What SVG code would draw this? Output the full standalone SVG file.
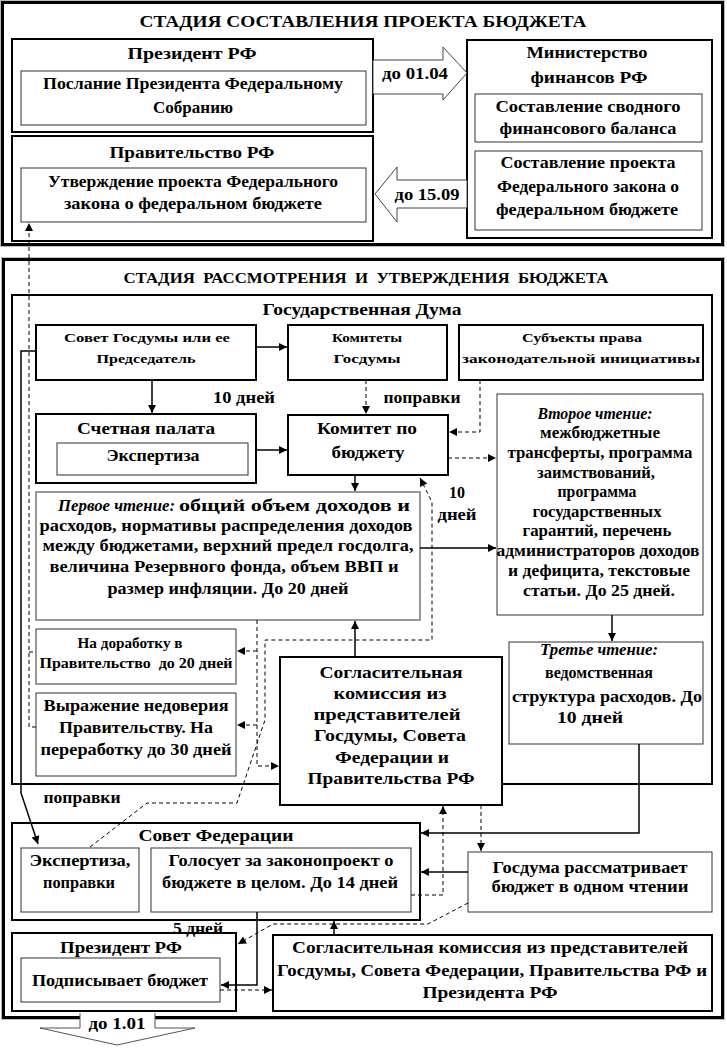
<svg xmlns="http://www.w3.org/2000/svg" width="727" height="1049" viewBox="0 0 727 1049">
<style>
.t{font-family:"Liberation Serif","Times New Roman",serif;font-weight:bold;text-anchor:middle;fill:#000}
.ts{font-family:"Liberation Serif","Times New Roman",serif;font-weight:bold;text-anchor:start;fill:#000}
.i{font-style:italic}
.f17{font-size:17px}.f16{font-size:16px}.f15{font-size:15.5px}.f14{font-size:14px}.f13{font-size:13px}
.st{fill:#fff;stroke:#000;stroke-width:3}
.sto{fill:none;stroke:#777;stroke-width:1;stroke-dasharray:1 1}
.b{fill:#fff;stroke:#000;stroke-width:2}
.n{fill:#fff;stroke:#333;stroke-width:1}
.c{fill:none;stroke:#000;stroke-width:1.5}
.d{fill:none;stroke:#000;stroke-width:1;stroke-dasharray:4 3}
.ba{fill:#fff;stroke:#444;stroke-width:1}
</style>
<defs>
<marker id="a" viewBox="0 0 10 10" refX="10" refY="5" markerWidth="9" markerHeight="8" markerUnits="userSpaceOnUse" orient="auto"><path d="M0,0 L10,5 L0,10 z" fill="#000"/></marker>
</defs>
<rect width="727" height="1049" fill="#fff"/>

<g id="stage1">
<rect class="st" x="2.5" y="2.5" width="720" height="242"/>
<rect class="sto" x="0.5" y="0.5" width="724" height="246"/>
<text class="t f17" x="363" y="27" textLength="447" lengthAdjust="spacingAndGlyphs">СТАДИЯ СОСТАВЛЕНИЯ ПРОЕКТА БЮДЖЕТА</text>
</g>

<g id="president1">
<rect class="b" x="12" y="39" width="361" height="93"/>
<text class="t f17" x="192" y="59" textLength="129" lengthAdjust="spacingAndGlyphs">Президент РФ</text>
<rect class="n" x="21" y="71" width="345" height="54"/>
<text class="t f17" x="193" y="89" textLength="300" lengthAdjust="spacingAndGlyphs">Послание Президента Федеральному</text>
<text class="t f17" x="193" y="113" textLength="80" lengthAdjust="spacingAndGlyphs">Собранию</text>
</g>

<g id="government">
<rect class="b" x="12" y="136" width="361" height="105"/>
<text class="t f17" x="192" y="158" textLength="165" lengthAdjust="spacingAndGlyphs">Правительство РФ</text>
<rect class="n" x="21" y="168" width="345" height="54"/>
<text class="t f17" x="193" y="187" textLength="290" lengthAdjust="spacingAndGlyphs">Утверждение проекта Федерального</text>
<text class="t f17" x="193" y="209" textLength="258" lengthAdjust="spacingAndGlyphs">закона о федеральном бюджете</text>
</g>

<g id="minfin">
<rect class="b" x="467" y="40" width="245" height="198"/>
<text class="t f17" x="587" y="58" textLength="121" lengthAdjust="spacingAndGlyphs">Министерство</text>
<text class="t f17" x="589" y="83" textLength="117" lengthAdjust="spacingAndGlyphs">финансов РФ</text>
<rect class="n" x="475" y="94" width="227" height="48"/>
<text class="t f17" x="588" y="112" textLength="185" lengthAdjust="spacingAndGlyphs">Составление сводного</text>
<text class="t f17" x="588" y="134" textLength="177" lengthAdjust="spacingAndGlyphs">финансового баланса</text>
<rect class="n" x="475" y="151" width="227" height="79"/>
<text class="t f17" x="588" y="168" textLength="175" lengthAdjust="spacingAndGlyphs">Составление проекта</text>
<text class="t f17" x="588" y="192" textLength="182" lengthAdjust="spacingAndGlyphs">Федерального закона о</text>
<text class="t f17" x="587" y="215" textLength="182" lengthAdjust="spacingAndGlyphs">федеральном бюджете</text>
</g>

<g id="stage2">
<rect class="st" x="3.5" y="259.5" width="719" height="758"/>
<rect class="sto" x="1.5" y="257.5" width="723" height="762"/>
<text class="t f15" x="366" y="283" textLength="485" lengthAdjust="spacingAndGlyphs" xml:space="preserve">СТАДИЯ  РАССМОТРЕНИЯ  И  УТВЕРЖДЕНИЯ  БЮДЖЕТА</text>
</g>

<g id="duma">
<rect class="b" x="12" y="295" width="700" height="489"/>
<text class="t f17" x="362" y="315" textLength="199" lengthAdjust="spacingAndGlyphs">Государственная Дума</text>
</g>

<g id="sovet-gd">
<rect class="b" x="36" y="325" width="220" height="55"/>
<text class="t f13" x="147" y="342" textLength="166" lengthAdjust="spacingAndGlyphs">Совет Госдумы или ее</text>
<text class="t f13" x="146" y="363" textLength="99" lengthAdjust="spacingAndGlyphs">Председатель</text>
</g>

<g id="komitety">
<rect class="b" x="288" y="325" width="159" height="55"/>
<text class="t f13" x="367" y="342" textLength="70" lengthAdjust="spacingAndGlyphs">Комитеты</text>
<text class="t f13" x="367" y="363" textLength="67" lengthAdjust="spacingAndGlyphs">Госдумы</text>
</g>

<g id="subjects">
<rect class="b" x="459" y="325" width="244" height="55"/>
<text class="t f13" x="582" y="342" textLength="120" lengthAdjust="spacingAndGlyphs">Субъекты права</text>
<text class="t f13" x="581" y="363" textLength="238" lengthAdjust="spacingAndGlyphs">законодательной инициативы</text>
</g>

<g id="schetnaya">
<rect class="b" x="36" y="414" width="220" height="69"/>
<text class="t f17" x="146" y="434" textLength="138" lengthAdjust="spacingAndGlyphs">Счетная палата</text>
<rect class="n" x="57" y="443" width="191" height="32"/>
<text class="t f17" x="153" y="461" textLength="93" lengthAdjust="spacingAndGlyphs">Экспертиза</text>
</g>

<g id="komitet-budget">
<rect class="b" x="288" y="415" width="160" height="60"/>
<text class="t f17" x="367" y="434" textLength="100" lengthAdjust="spacingAndGlyphs">Комитет по</text>
<text class="t f17" x="368" y="458" textLength="73" lengthAdjust="spacingAndGlyphs">бюджету</text>
</g>

<g id="second-reading">
<rect class="n" x="497" y="394" width="206" height="221"/>
<text class="t f16 i" x="595" y="419" textLength="115" lengthAdjust="spacingAndGlyphs">Второе чтение:</text>
<text class="t f16" x="600" y="438" textLength="120" lengthAdjust="spacingAndGlyphs">межбюджетные</text>
<text class="t f16" x="600" y="458" textLength="185" lengthAdjust="spacingAndGlyphs">трансферты, программа</text>
<text class="t f16" x="596" y="478" textLength="118" lengthAdjust="spacingAndGlyphs">заимствований,</text>
<text class="t f16" x="597" y="497" textLength="79" lengthAdjust="spacingAndGlyphs">программа</text>
<text class="t f16" x="597" y="517" textLength="129" lengthAdjust="spacingAndGlyphs">государственных</text>
<text class="t f16" x="597" y="536" textLength="149" lengthAdjust="spacingAndGlyphs">гарантий, перечень</text>
<text class="t f16" x="598" y="556" textLength="203" lengthAdjust="spacingAndGlyphs">администраторов доходов</text>
<text class="t f16" x="599" y="576" textLength="182" lengthAdjust="spacingAndGlyphs">и дефицита, текстовые</text>
<text class="t f16" x="599" y="596" textLength="152" lengthAdjust="spacingAndGlyphs">статьи. До 25 дней.</text>
</g>

<g id="first-reading">
<rect class="n" x="36" y="492" width="384" height="128"/>
<text class="ts f16 i" x="58" y="511" textLength="117" lengthAdjust="spacingAndGlyphs">Первое чтение:</text>
<text class="ts f16" x="179" y="511" textLength="231" lengthAdjust="spacingAndGlyphs">общий объем доходов и</text>
<text class="t f16" x="226" y="531" textLength="373" lengthAdjust="spacingAndGlyphs">расходов, нормативы распределения доходов</text>
<text class="t f16" x="228" y="551" textLength="371" lengthAdjust="spacingAndGlyphs">между бюджетами, верхний предел госдолга,</text>
<text class="t f16" x="224" y="572" textLength="349" lengthAdjust="spacingAndGlyphs">величина Резервного фонда, объем ВВП и</text>
<text class="t f16" x="228" y="594" textLength="241" lengthAdjust="spacingAndGlyphs">размер инфляции. До 20 дней</text>
</g>

<g id="dorabotka">
<rect class="n" x="36" y="629" width="200" height="55"/>
<text class="t f14" x="130" y="648" textLength="105" lengthAdjust="spacingAndGlyphs">На доработку в</text>
<text class="t f14" x="136" y="668" textLength="193" lengthAdjust="spacingAndGlyphs" xml:space="preserve">Правительство  до 20 дней</text>
</g>

<g id="nedoverie">
<rect class="n" x="36" y="693" width="200" height="83"/>
<text class="t f16" x="136" y="711" textLength="185" lengthAdjust="spacingAndGlyphs">Выражение недоверия</text>
<text class="t f16" x="136" y="733" textLength="154" lengthAdjust="spacingAndGlyphs">Правительству. На</text>
<text class="t f16" x="136" y="755" textLength="191" lengthAdjust="spacingAndGlyphs">переработку до 30 дней</text>
</g>

<g id="soglas-1">
<rect class="b" x="280" y="657" width="222" height="148"/>
<text class="t f17" x="391" y="678" textLength="143" lengthAdjust="spacingAndGlyphs">Согласительная</text>
<text class="t f17" x="390" y="699" textLength="113" lengthAdjust="spacingAndGlyphs">комиссия из</text>
<text class="t f17" x="387" y="720" textLength="147" lengthAdjust="spacingAndGlyphs">представителей</text>
<text class="t f17" x="390" y="741" textLength="152" lengthAdjust="spacingAndGlyphs">Госдумы, Совета</text>
<text class="t f17" x="392" y="763" textLength="114" lengthAdjust="spacingAndGlyphs">Федерации и</text>
<text class="t f17" x="391" y="784" textLength="167" lengthAdjust="spacingAndGlyphs">Правительства РФ</text>
</g>

<g id="third-reading">
<rect class="n" x="509" y="642" width="194" height="102"/>
<text class="t f16 i" x="599" y="655" textLength="118" lengthAdjust="spacingAndGlyphs">Третье чтение:</text>
<text class="t f16" x="599" y="678" textLength="108" lengthAdjust="spacingAndGlyphs">ведомственная</text>
<text class="t f16" x="607" y="702" textLength="190" lengthAdjust="spacingAndGlyphs">структура расходов. До</text>
<text class="t f16" x="590" y="723" textLength="66" lengthAdjust="spacingAndGlyphs">10 дней</text>
</g>

<g id="sovfed">
<rect class="b" x="12" y="823" width="408" height="97"/>
<text class="t f17" x="216" y="841" textLength="155" lengthAdjust="spacingAndGlyphs">Совет Федерации</text>
<rect class="n" x="21" y="848" width="118" height="64"/>
<text class="t f16" x="80" y="866" textLength="101" lengthAdjust="spacingAndGlyphs">Экспертиза,</text>
<text class="t f16" x="79" y="888" textLength="72" lengthAdjust="spacingAndGlyphs">поправки</text>
<rect class="n" x="151" y="848" width="260" height="64"/>
<text class="t f16" x="281" y="866" textLength="225" lengthAdjust="spacingAndGlyphs">Голосует за законопроект о</text>
<text class="t f16" x="280" y="888" textLength="236" lengthAdjust="spacingAndGlyphs">бюджете в целом. До 14 дней</text>
</g>

<g id="gd-one-reading">
<rect class="n" x="468" y="852" width="244" height="60"/>
<text class="t f16" x="590" y="873" textLength="195" lengthAdjust="spacingAndGlyphs">Госдума рассматривает</text>
<text class="t f16" x="590" y="892" textLength="197" lengthAdjust="spacingAndGlyphs">бюджет в одном чтении</text>
</g>

<g id="president2">
<rect class="b" x="12" y="933" width="224" height="78"/>
<text class="t f17" x="121" y="953" textLength="122" lengthAdjust="spacingAndGlyphs">Президент РФ</text>
<rect class="n" x="21" y="958" width="199" height="44"/>
<text class="t f17" x="120" y="986" textLength="176" lengthAdjust="spacingAndGlyphs">Подписывает бюджет</text>
</g>

<g id="soglas-2">
<rect class="b" x="273" y="935" width="439" height="76"/>
<text class="t f17" x="490" y="953" textLength="396" lengthAdjust="spacingAndGlyphs">Согласительная комиссия из представителей</text>
<text class="t f17" x="492" y="976" textLength="430" lengthAdjust="spacingAndGlyphs">Госдумы, Совета Федерации, Правительства РФ и</text>
<text class="t f17" x="490" y="998" textLength="135" lengthAdjust="spacingAndGlyphs">Президента РФ</text>
</g>

<g id="connectors">
<polygon class="ba" points="373,60 443,60 443,47 467,73 443,100 443,94 373,94"/>
<text class="t f16" x="415" y="79" textLength="66" lengthAdjust="spacingAndGlyphs">до 01.04</text>
<polygon class="ba" points="467,180 397,180 397,167 375,194 397,222 397,208 467,208"/>
<text class="t f16" x="427" y="200" textLength="65" lengthAdjust="spacingAndGlyphs">до 15.09</text>

<path class="d" d="M36,727 H29 V223" marker-end="url(#a)"/>
<path class="d" d="M29,652 H36"/>
<path class="c" d="M36,351 H21 V793 L38,844" marker-end="url(#a)"/>
<path class="c" d="M256,347 H287" marker-end="url(#a)"/>
<path class="c" d="M152,380 V413" marker-end="url(#a)"/>
<text class="t f16" x="244" y="403" textLength="62" lengthAdjust="spacingAndGlyphs">10 дней</text>
<path class="c" d="M256,450 H287" marker-end="url(#a)"/>
<path class="d" d="M366,380 V414" marker-end="url(#a)"/>
<text class="t f16" x="422" y="403" textLength="77" lengthAdjust="spacingAndGlyphs">поправки</text>
<path class="d" d="M480,380 V432 H449" marker-end="url(#a)"/>
<path class="d" d="M448,458 H496" marker-end="url(#a)"/>
<path class="c" d="M355,475 V491" marker-end="url(#a)"/>
<path class="c" d="M420,548 H496" marker-end="url(#a)"/>
<path class="d" d="M90,847 L147,803 H237 L265,720 V640 H432 V502 L420,478" marker-end="url(#a)"/>
<text class="t f16" x="457" y="498">10</text>
<text class="t f16" x="457" y="520" textLength="39" lengthAdjust="spacingAndGlyphs">дней</text>
<text class="t f16" x="82" y="803" textLength="77" lengthAdjust="spacingAndGlyphs">поправки</text>
<path class="d" d="M257,620 V766 H279" marker-end="url(#a)"/>
<path class="d" d="M257,651 H237" marker-end="url(#a)"/>
<path class="d" d="M257,725 H237" marker-end="url(#a)"/>
<path class="c" d="M355,657 V621" marker-end="url(#a)"/>
<path class="c" d="M612,615 V641" marker-end="url(#a)"/>
<path class="c" d="M639,744 V833 H421" marker-end="url(#a)"/>
<path class="c" d="M468,872 H421" marker-end="url(#a)"/>
<path class="d" d="M481,805 V851" marker-end="url(#a)"/>
<path class="d" d="M411,895 H443 V806" marker-end="url(#a)"/>
<path class="d" d="M468,903 L428,924 H273 L238,944" marker-end="url(#a)"/>
<path class="c" d="M257,912 V985 H221" marker-end="url(#a)"/>
<text class="t f16" x="198" y="934" textLength="50" lengthAdjust="spacingAndGlyphs">5 дней</text>
<path class="c" d="M334,934 V921" marker-end="url(#a)"/>
<path class="d" d="M220,990 H272" marker-end="url(#a)"/>

<polygon points="80,1012 155,1012 155,1028 195,1028 117,1045 40,1028 80,1028" fill="#fff"/>
<polyline points="80,1013 80,1028 40,1028 117,1045 195,1028 155,1028 155,1013" fill="none" stroke="#555" stroke-width="1"/>
<text class="t f16" x="117" y="1029" textLength="57" lengthAdjust="spacingAndGlyphs">до 1.01</text>
</g>
</svg>
